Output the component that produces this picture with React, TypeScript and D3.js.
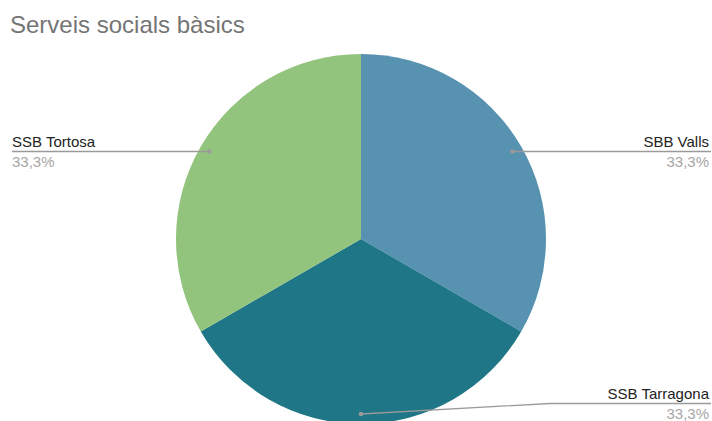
import React from "react";
import * as d3 from "d3";

const categories = ["SBB Valls", "SSB Tarragona", "SSB Tortosa"];
const values = [1, 1, 1];
const percentLabels = ["33,3%", "33,3%", "33,3%"];
const colors = ["#5792b1", "#1f7686", "#93c47d"];

const W = 712;
const H = 421;
const cx = 361;
const cy = 239;
const R = 185;

export default function App() {
  const pie = d3.pie<number>().sort(null).value((d) => d)(values);
  const arc = d3.arc<d3.PieArcDatum<number>>().innerRadius(0).outerRadius(R);
  const font = "'Liberation Sans', Arial, sans-serif";

  const layouts = pie.map((p, i) => {
    const mid = (p.startAngle + p.endAngle) / 2;
    const dx = cx + Math.sin(mid) * 175;
    const dy = cy - Math.cos(mid) * 175;
    return { mid, dx, dy, i };
  });

  const lineColor = "#9a9a9a";
  const fs = 15;

  return (
    <div style={{ position: "absolute", left: 0, top: 0 }}>
      <svg width={W} height={H} style={{ display: "block", fontFamily: font }}>
        <rect width={W} height={H} fill="#ffffff" />
        <text x={10} y={33} fontSize={24} fill="#757575">
          Serveis socials bàsics
        </text>
        <g transform={`translate(${cx},${cy})`}>
          {pie.map((p, i) => (
            <path key={i} d={arc(p) || ""} fill={colors[i]} stroke="none" />
          ))}
        </g>
        {layouts.map((l) => {
          const i = l.i;
          const isRight = Math.sin(l.mid) > 0.3;
          const isLeft = Math.sin(l.mid) < -0.3;
          if (isRight) {
            const ly = l.dy;
            return (
              <g key={i}>
                <line x1={l.dx} y1={ly} x2={711} y2={ly} stroke={lineColor} strokeWidth={1.3} />
                <circle cx={l.dx} cy={l.dy} r={2.3} fill={lineColor} />
                <text x={709} y={ly - 5} textAnchor="end" fontSize={fs} fill="#222">
                  {categories[i]}
                </text>
                <text x={709} y={ly + 15} textAnchor="end" fontSize={fs} fill="#a6a6a6">
                  {percentLabels[i]}
                </text>
              </g>
            );
          }
          if (isLeft) {
            const ly = l.dy;
            return (
              <g key={i}>
                <line x1={12} y1={ly} x2={l.dx} y2={ly} stroke={lineColor} strokeWidth={1.3} />
                <circle cx={l.dx} cy={l.dy} r={2.3} fill={lineColor} />
                <text x={12} y={ly - 5} textAnchor="start" fontSize={fs} fill="#222">
                  {categories[i]}
                </text>
                <text x={12} y={ly + 15} textAnchor="start" fontSize={fs} fill="#a6a6a6">
                  {percentLabels[i]}
                </text>
              </g>
            );
          }
          const ly = 403.5;
          return (
            <g key={i}>
              <polyline
                points={`${l.dx},${l.dy} 550,${ly} 711,${ly}`}
                fill="none"
                stroke={lineColor}
                strokeWidth={1.3}
              />
              <circle cx={l.dx} cy={l.dy} r={2.3} fill={lineColor} />
              <text x={709} y={ly - 5} textAnchor="end" fontSize={fs} fill="#222">
                {categories[i]}
              </text>
              <text x={709} y={ly + 15} textAnchor="end" fontSize={fs} fill="#a6a6a6">
                {percentLabels[i]}
              </text>
            </g>
          );
        })}
      </svg>
    </div>
  );
}
